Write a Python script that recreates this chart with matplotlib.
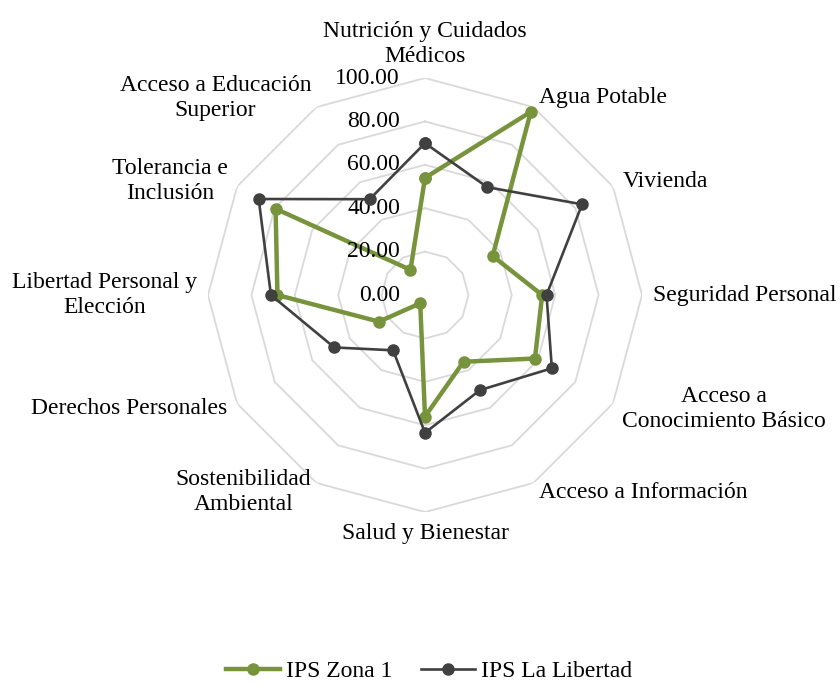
import matplotlib.pyplot as plt
import matplotlib.transforms as mtransforms
import numpy as np

plt.rcParams['font.family'] = ['Liberation Serif', 'DejaVu Serif']

categories = ['Nutrición y Cuidados\nMédicos', 'Agua Potable', 'Vivienda',
              'Seguridad Personal', 'Acceso a\nConocimiento Básico',
              'Acceso a Información', 'Salud y Bienestar',
              'Sostenibilidad\nAmbiental', 'Derechos Personales',
              'Libertad Personal y\nElección', 'Tolerancia e\nInclusión',
              'Acceso a Educación\nSuperior']
zona1 = [54, 97.5, 36, 54, 58.5, 35.5, 56, 4.4, 24.5, 68, 79.5, 13.4]
libertad = [70, 57.4, 83.6, 56, 67.5, 50.6, 63.5, 29.4, 48.3, 71, 88.5, 51]
ticks = [0, 20, 40, 60, 80, 100]

n = len(categories)
theta = np.arange(n) * 2 * np.pi / n
theta_c = np.append(theta, theta[0])

fig = plt.figure(figsize=(8.4, 6.84), dpi=100)
ax = fig.add_axes([0.2476, 0.2514, 0.5167, 0.6345], projection='polar')
ax.set_theta_zero_location('N')
ax.set_theta_direction(-1)
ax.set_ylim(0, 100)
ax.grid(False)
ax.spines['polar'].set_visible(False)
ax.set_xticks([])
ax.set_yticks([])

# polygon gridlines
for t in ticks[1:]:
    ax.plot(theta_c, [t] * (n + 1), color='#d9d9d9', lw=1.3, zorder=1)

ax.plot(theta_c, zona1 + zona1[:1], color='#77933c', lw=3.2, marker='o',
        ms=8, label='IPS Zona 1', zorder=3, clip_on=False)
ax.plot(theta_c, libertad + libertad[:1], color='#404040', lw=1.9, marker='o',
        ms=8, label='IPS La Libertad', zorder=4, clip_on=False)

fs = 17
for ang, lab in zip(theta, categories):
    s = np.sin(ang)
    c = np.cos(ang)
    if abs(s) < 0.01:
        ha = 'center'
        va = 'bottom' if c > 0 else 'top'
    else:
        ha = 'left' if s > 0 else 'right'
        va = 'center'
    ax.text(ang, 105, lab, ha=ha, va=va, fontsize=fs, multialignment='center',
            linespacing=1.25)

off = mtransforms.offset_copy(ax.transData, fig=fig, x=-25, y=0, units='dots')
for t in ticks:
    ax.text(0, t, f'{t:.2f}', transform=off, ha='right', va='center',
            fontsize=fs)

fig.legend(loc='lower center', bbox_to_anchor=(0.511, -0.028), ncol=2,
           frameon=False, fontsize=fs, handlelength=2.3, columnspacing=1.2,
           handletextpad=0.25)

fig.savefig('out.png', dpi=100)
